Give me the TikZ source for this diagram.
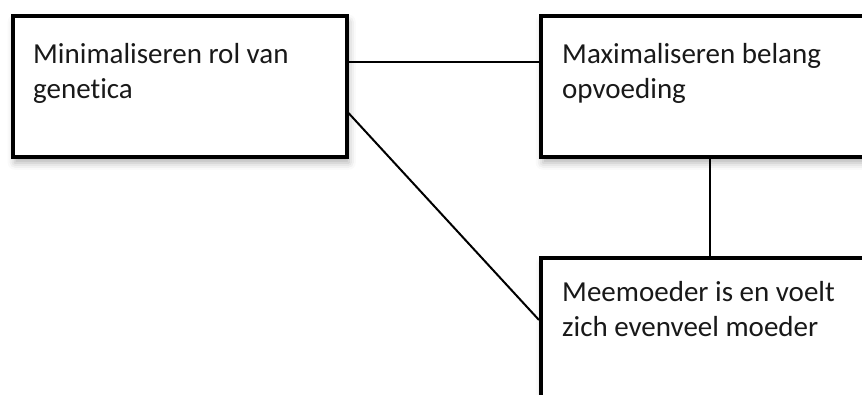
\documentclass[tikz,border=0pt]{standalone}
\usepackage{fontspec}
\setmainfont[Ligatures=NoCommon]{Carlito}
\usetikzlibrary{shadows.blur}
\tikzset{
  box/.style={draw=black, line width=3.5pt, fill=white, inner sep=0pt,
    anchor=north west,
    blur shadow={shadow xshift=2pt, shadow yshift=-6pt, shadow blur radius=7pt, shadow opacity=30}},
  label/.style={anchor=north west, inner sep=0pt, align=left, text=black!90,
    font=\fontsize{29}{35.5}\selectfont},
  link/.style={draw=black, line width=2pt}
}
\begin{document}
\begin{tikzpicture}[x=1pt, y=-1pt]
  \useasboundingbox (0,0) rectangle (862,394);
  \clip (0,0) rectangle (862,394);
  % three boxes
  \node[box, minimum width=334pt, minimum height=141pt] (gen) at (11,14) {};
  \node[box, minimum width=360pt, minimum height=141pt] (opv) at (539,14) {};
  \node[box, minimum width=360pt, minimum height=180pt] (mee) at (539,256) {};
  % box texts
  \node[label] (tgen) at (33,43) {Minimaliseren rol van\\genetica};
  \node[label] (topv) at (562,43) {Maximaliseren belang\\opvoeding};
  \node[label] (tmee) at (562,281) {Meemoeder is en voelt\\zich evenveel moeder};
  % connectors
  \coordinate (a1) at (gen.east |- 0,62);
  \coordinate (a2) at (opv.west |- 0,62);
  \draw[link] (a1) -- (a2);
  \coordinate (b1) at (gen.east |- 0,113);
  \coordinate (b2) at (mee.west |- 0,320);
  \draw[link] (b1) -- (b2);
  \coordinate (c1) at (710,0 |- opv.south);
  \coordinate (c2) at (710,0 |- mee.north);
  \draw[link] (c1) -- (c2);
\end{tikzpicture}
\end{document}
